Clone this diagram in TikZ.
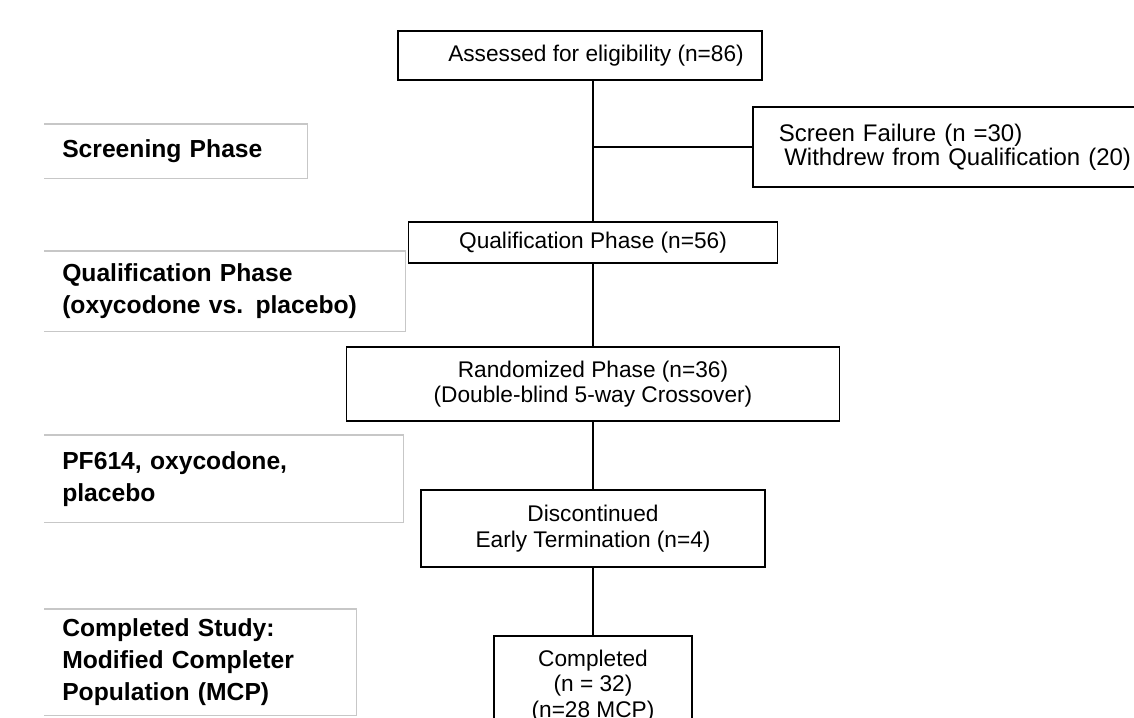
\documentclass[tikz,border=0pt]{standalone}
\usepackage{fontspec}
\setmainfont{Liberation Sans}
\usepackage{tikz}

\begin{document}
\begin{tikzpicture}[
  x=0.75pt, y=-0.75pt,
  box/.style={draw, line width=1.4pt, align=center, inner sep=0pt, font=\fontsize{17}{19}\selectfont},
  phase/.style={anchor=north west, align=left, inner xsep=13.5pt, inner ysep=0pt, font=\fontsize{18.5}{24}\selectfont\bfseries},
  frame/.style={draw=black!22, line width=0.8pt},
  link/.style={line width=1.4pt}
]
\useasboundingbox (0,0) rectangle (1134,717);
\clip (0,0) rectangle (1134,717);

% flow boxes
\node[box, minimum width=364*0.75pt, minimum height=49*0.75pt] (assess) at (580,55.5) {\hspace*{24pt}Assessed for eligibility (n=86)};
\node[box, anchor=west, align=left, inner xsep=19.5pt, text width=370*0.75pt, minimum height=80*0.75pt,
  font=\fontsize{18}{18}\selectfont] (screen) at (752,147)
  {Screen Failure (n =30)\\\hspace*{4pt}Withdrew from Qualification (20)};
\node[box, minimum width=369*0.75pt, minimum height=41*0.75pt] (qual) at (593,242.5) {Qualification Phase (n=56)};
\node[box, minimum width=493*0.75pt, minimum height=74*0.75pt] (rand) at (593,384) {Randomized\ Phase (n=36)\\(Double-blind\ 5-way Crossover)};
\node[box, minimum width=344*0.75pt, minimum height=77*0.75pt] (disc) at (593,528.5) {Discontinued\\Early Termination (n=4)};
\node[box, minimum width=198*0.75pt, minimum height=100*0.75pt] (compl) at (593,686) {Completed\\(n = 32)\\(n=28 MCP)};

% phase labels
\node[phase, text width=227*0.75pt, minimum height=54*0.75pt] (pscr) at (44,124) {Screening Phase};
\node[phase, text width=325*0.75pt, minimum height=80*0.75pt] (pqual) at (44,251) {Qualification Phase\\(oxycodone vs. placebo)};
\node[phase, text width=323*0.75pt, minimum height=87*0.75pt] (prand) at (44,435) {PF614, oxycodone,\\placebo};
\node[phase, text width=276*0.75pt, minimum height=106*0.75pt] (pcompl) at (44,609) {Completed Study:\\Modified Completer\\Population (MCP)};

\foreach \p in {pscr, pqual, prand, pcompl}
  \draw[frame] (\p.north west) -| (\p.south east) -- (\p.south west);

% connectors
\coordinate (top) at (qual.north |- assess.south);
\coordinate (split) at (qual.north |- screen.west);
\draw[link] (top) -- (qual);
\draw[link] (split) -- (screen.west);
\draw[link] (qual) -- (rand);
\draw[link] (rand) -- (disc);
\draw[link] (disc) -- (compl);

\end{tikzpicture}
\end{document}
